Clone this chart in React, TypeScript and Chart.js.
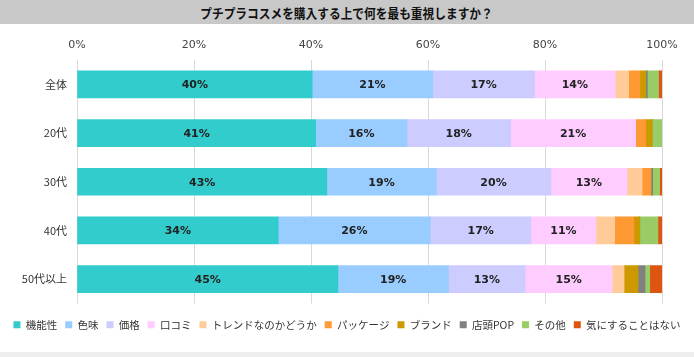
import React, { useEffect, useRef } from "react";
import { Chart, registerables } from "chart.js";

Chart.register(...registerables);

const title = "プチプラコスメを購入する上で何を最も重視しますか？";
const categories = ["全体", "20代", "30代", "40代", "50代以上"];
const seriesNames = [
  "機能性",
  "色味",
  "価格",
  "口コミ",
  "トレンドなのかどうか",
  "パッケージ",
  "ブランド",
  "店頭POP",
  "その他",
  "気にすることはない",
];
const seriesColors = [
  "#33cccc",
  "#99ccff",
  "#ccccff",
  "#ffccff",
  "#ffcc99",
  "#ff9933",
  "#cc9900",
  "#808080",
  "#99cc66",
  "#dd5511",
];
const kinou = [40.2, 40.8, 42.7, 34.4, 44.6];
const iromi = [20.6, 15.6, 18.7, 26.0, 18.9];
const kakaku = [17.4, 17.7, 19.6, 17.2, 13.1];
const kuchikomi = [13.8, 21.4, 13.0, 11.1, 14.9];
const trend = [2.3, 0, 2.6, 3.2, 2.0];
const package_ = [1.9, 1.7, 1.5, 3.3, 0];
const brand = [1.0, 1.1, 0, 1.0, 2.4];
const tentouPop = [0.3, 0, 0.3, 0, 1.2];
const sonota = [1.9, 1.7, 1.2, 3.1, 0.8];
const kinishinai = [0.6, 0, 0.4, 0.7, 2.1];
const seriesValues = [kinou, iromi, kakaku, kuchikomi, trend, package_, brand, tentouPop, sonota, kinishinai];
const tickLabels = ["0%", "20%", "40%", "60%", "80%", "100%"];

const jpFont = "'Noto Sans CJK JP', 'Noto Sans', sans-serif";
const numFont = "'DejaVu Sans', Verdana, sans-serif";

const valueLabels = {
  id: "valueLabels",
  afterDatasetsDraw(chart: any) {
    const ctx = chart.ctx;
    ctx.save();
    ctx.font = `bold 11px ${numFont}`;
    ctx.fillStyle = "#222222";
    ctx.textAlign = "center";
    ctx.textBaseline = "middle";
    chart.data.datasets.forEach((ds: any, di: number) => {
      const meta = chart.getDatasetMeta(di);
      meta.data.forEach((el: any, i: number) => {
        const v = ds.data[i];
        if (v >= 10) {
          ctx.fillText(Math.round(v) + "%", (el.x + el.base) / 2, el.y + 1);
        }
      });
    });
    ctx.restore();
  },
};

export default function App() {
  const ref = useRef<HTMLCanvasElement>(null);
  useEffect(() => {
    document.body.style.margin = "0";
    const chart = new Chart(ref.current!, {
      type: "bar",
      data: {
        labels: categories,
        datasets: seriesNames.map((name, i) => ({
          label: name,
          data: seriesValues[i],
          backgroundColor: seriesColors[i],
          borderWidth: 0,
          barThickness: 27,
        })),
      },
      options: {
        indexAxis: "y",
        animation: false,
        responsive: false,
        maintainAspectRatio: false,
        layout: { padding: { left: 0, right: 0, top: 0, bottom: 12 } },
        scales: {
          x: {
            position: "top",
            stacked: true,
            min: 0,
            max: 100,
            afterFit: (s: any) => {
              s.height = 36;
            },
            ticks: {
              stepSize: 20,
              padding: 8,
              color: "#444444",
              font: { family: numFont, size: 11 },
              callback: (v: any) => tickLabels[Math.round(Number(v) / 20)],
            },
            grid: { color: "#d9d9d9", drawTicks: false },
            border: { display: false },
          },
          y: {
            stacked: true,
            afterFit: (s: any) => {
              s.width = 77;
            },
            ticks: {
              padding: 10,
              color: "#333333",
              font: { family: jpFont, size: 11 },
            },
            grid: { display: false, drawTicks: false },
            border: { display: false },
          },
          yRight: {
            type: "category",
            position: "right",
            labels: categories,
            afterFit: (s: any) => {
              s.width = 32;
            },
            ticks: { display: false },
            grid: { display: false, drawTicks: false },
            border: { display: false },
          },
        },
        plugins: {
          legend: {
            position: "bottom",
            title: {
              display: true,
              text: " ",
              padding: 0,
              font: { size: 8, lineHeight: 1 },
            },
            labels: {
              boxWidth: 7,
              boxHeight: 7,
              padding: 8,
              color: "#333333",
              font: { family: jpFont, size: 10.5 },
            },
          },
          tooltip: { enabled: false },
        },
      },
      plugins: [valueLabels],
    });
    return () => chart.destroy();
  }, []);
  return (
    <div style={{ width: 694, height: 357, position: "relative", background: "#fff" }}>
      <div
        style={{
          height: 24,
          background: "#c8c8c8",
          display: "flex",
          alignItems: "center",
          justifyContent: "center",
          overflow: "hidden",
        }}
      >
        <span
          style={{
            fontFamily: jpFont,
            fontWeight: "bold",
            fontSize: 13,
            color: "#111",
            display: "inline-block",
            transform: "scaleX(0.9)",
            whiteSpace: "nowrap",
          }}
        >
          {title}
        </span>
      </div>
      <canvas ref={ref} width={694} height={328} style={{ display: "block" }} />
      <div style={{ height: 5, background: "#eeeeee" }} />
    </div>
  );
}
